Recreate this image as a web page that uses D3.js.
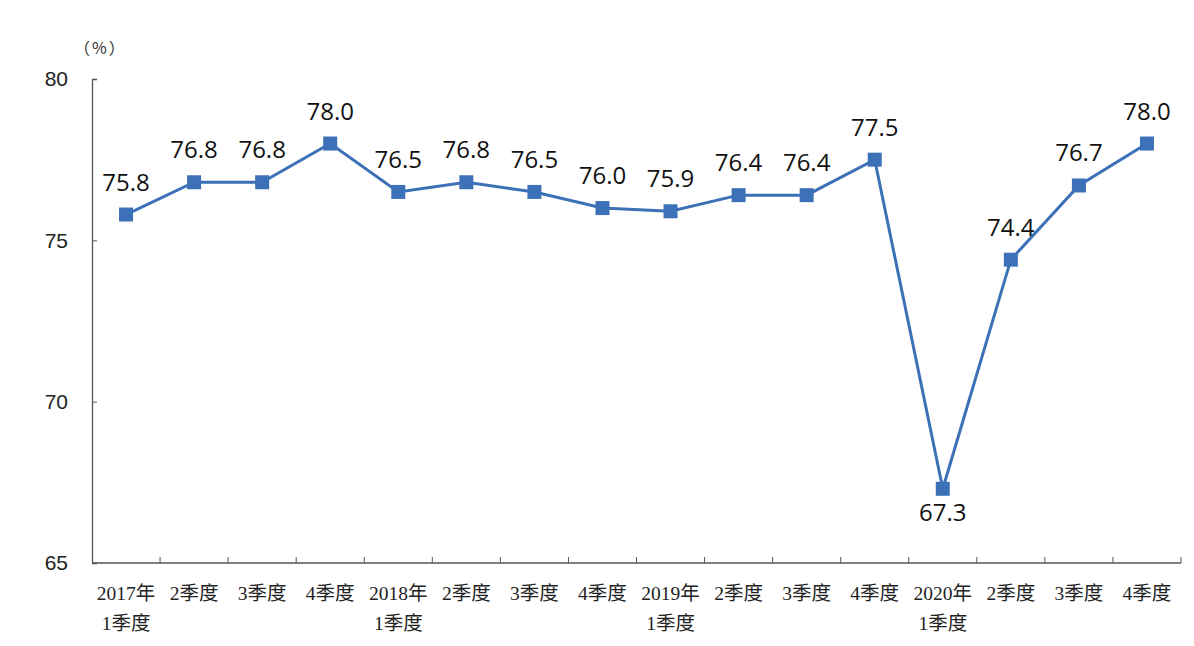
<!DOCTYPE html>
<html>
<head>
<meta charset="utf-8">
<script src="https://cdn.jsdelivr.net/npm/d3@7"></script>
<style>
  body { margin: 0; background: #fff; }
  .yAxis text { font-family: Arial, "Liberation Sans", sans-serif; font-size: 21px; fill: #222; }
  .xAxis text { font-family: "Liberation Serif", "Noto Sans CJK SC", serif; font-size: 19.5px; fill: #222; }
  .valText { font-family: "Open Sans", "Noto Sans", sans-serif; font-size: 24px; fill: #111; }
</style>
</head>
<body>
<div id="chart"></div>
<script>
// quarters and utilisation rate (%)
var quarters = ["2017年|1季度", "2季度", "3季度", "4季度", "2018年|1季度", "2季度", "3季度", "4季度",
    "2019年|1季度", "2季度", "3季度", "4季度", "2020年|1季度", "2季度", "3季度", "4季度"];
var values = [75.8, 76.8, 76.8, 78.0, 76.5, 76.8, 76.5, 76.0, 75.9, 76.4, 76.4, 77.5, 67.3, 74.4, 76.7, 78.0];
var yTicks = [65, 70, 75, 80];

var graph_width = 1194, graph_height = 646;
var m_left = 92, m_right = 1181, m_top = 79, m_bottom = 563;
var lineColor = "#3d71b7";

var svg = d3.select("#chart").append("svg")
    .attr("width", graph_width)
    .attr("height", graph_height);

var keys = quarters.map(function (q, i) { return i; });
var xScale = d3.scaleBand().domain(keys).range([m_left, m_right]);
var yScale = d3.scaleLinear().domain([65, 80]).range([m_bottom, m_top]);
var cx = function (i) { return xScale(i) + xScale.bandwidth() / 2; };

// y axis
var yAxis = d3.axisLeft(yScale).tickValues(yTicks).tickSize(-5).tickPadding(24);
var gy = svg.append("g")
    .attr("class", "yAxis")
    .attr("transform", `translate(${m_left}, 0)`)
    .call(yAxis);
gy.select(".domain").attr("stroke", "#555").attr("stroke-width", 1.3);
gy.selectAll(".tick line").attr("stroke", "#555");

// x axis: ticks sit on band boundaries
var gx = svg.append("g")
    .attr("class", "xAxis")
    .attr("transform", `translate(0, ${m_bottom})`);
gx.append("line")
    .attr("x1", m_left).attr("x2", m_right)
    .attr("stroke", "#555").attr("stroke-width", 1.3);
var bounds = keys.slice(1).map(function (k) { return xScale(k); }).concat([m_right]);
gx.selectAll(".xtick").data(bounds).enter().append("line")
    .attr("x1", function (d) { return d; })
    .attr("x2", function (d) { return d; })
    .attr("y1", 0).attr("y2", -6)
    .attr("stroke", "#555");

var labels = gx.selectAll(".xlab").data(keys).enter().append("text")
    .attr("text-anchor", "middle")
    .attr("x", cx);
labels.each(function (k) {
    var parts = quarters[k].split("|");
    var t = d3.select(this);
    parts.forEach(function (p, j) {
        t.append("tspan")
            .attr("x", cx(k))
            .attr("y", 37 + j * 30)
            .text(p);
    });
});

// unit
svg.append("text")
    .attr("x", 74).attr("y", 54)
    .attr("font-family", "Noto Sans CJK SC")
    .attr("font-size", 16)
    .attr("letter-spacing", 2)
    .attr("fill", "#333")
    .text("（%）");

// line
var line = d3.line()
    .x(function (d, i) { return cx(i); })
    .y(function (d) { return yScale(d); });

svg.append("path")
    .datum(values)
    .attr("d", line)
    .attr("fill", "none")
    .attr("stroke", lineColor)
    .attr("stroke-width", 3);

var pts = svg.selectAll(".pt").data(values).enter();
pts.append("rect")
    .attr("x", function (d, i) { return cx(i) - 7; })
    .attr("y", function (d) { return yScale(d) - 7; })
    .attr("width", 14).attr("height", 14)
    .attr("fill", lineColor);

pts.append("text")
    .attr("class", "valText")
    .attr("text-anchor", "middle")
    .attr("x", function (d, i) { return cx(i); })
    .attr("y", function (d) { return d < 70 ? yScale(d) + 32 : yScale(d) - 24; })
    .text(function (d) { return d.toFixed(1); });
</script>
</body>
</html>
